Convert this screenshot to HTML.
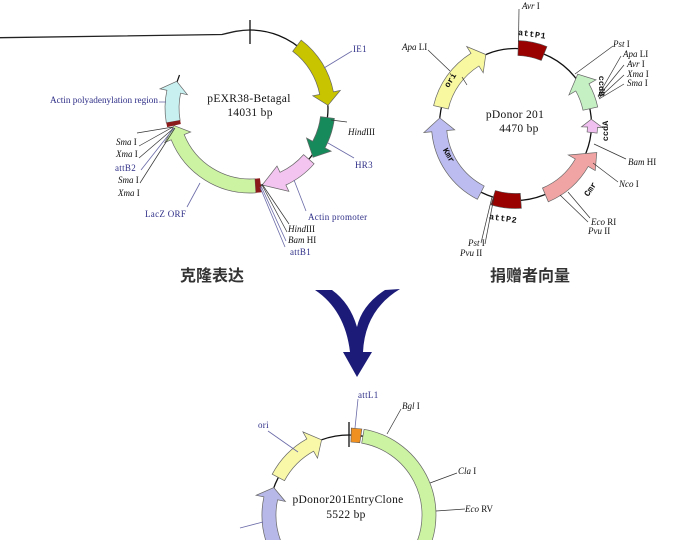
<!DOCTYPE html>
<html><head><meta charset="utf-8"><style>
html,body{margin:0;padding:0;background:#fff;}
svg{display:block;}
.t{font-family:"Liberation Serif",serif;font-size:9px;fill:#111;}
.n{font-family:"Liberation Serif",serif;font-size:9px;fill:#2e2e88;letter-spacing:0.3px;}
.c{font-family:"Liberation Serif",serif;font-size:11.5px;fill:#111;letter-spacing:0.3px;}
.m{font-family:"Liberation Mono",monospace;font-size:8.5px;font-weight:bold;fill:#111;}
.zh{font-family:"Liberation Sans","Noto Sans CJK SC",sans-serif;font-size:16px;font-weight:bold;fill:#333;}
.l{stroke:#333;stroke-width:0.7;fill:none;}
.ln{stroke:#6a6aa8;stroke-width:0.8;fill:none;}
.f{stroke:#666;stroke-width:0.7;}
</style></head><body>
<svg width="700" height="540" viewBox="0 0 700 540" xmlns="http://www.w3.org/2000/svg">
<rect width="700" height="540" fill="#fff"/>

<!-- ===== LEFT PLASMID ===== -->
<path d="M0,37.7 L222,34.5 C232,32 240,30 250,30" stroke="#222" stroke-width="1.3" fill="none"/>
<path d="M250,30 A78,78 0 0 1 250,186" stroke="#111" stroke-width="1.3" fill="none"/>
<line x1="250" y1="20" x2="250" y2="44" stroke="#111" stroke-width="1.3"/>
<line x1="177" y1="82" x2="179.5" y2="75" stroke="#111" stroke-width="1.2"/>

<path class="f" fill="#c8c400" d="M301.2,40.1 A85,85 0 0 1 333.4,91.8 L340.3,90.4 L328.0,105.3 L312.8,95.8 L319.7,94.5 A71,71 0 0 0 292.7,51.3 Z"/>
<path class="f" fill="#178a5c" d="M334.4,118.4 A85,85 0 0 1 325.0,147.9 L331.2,151.2 L313.0,157.3 L306.5,138.0 L312.7,141.3 A71,71 0 0 0 320.5,116.7 Z"/>
<path class="f" fill="#f3c4f0" d="M314.1,163.8 A85,85 0 0 1 285.9,185.0 L288.9,191.4 L262.2,185.0 L277.0,166.0 L280.0,172.3 A71,71 0 0 0 303.6,154.6 Z"/>
<path class="f" fill="#ccf3a2" d="M255.9,192.8 A85,85 0 0 1 171.2,139.8 L164.7,142.5 L174.0,125.6 L190.7,132.0 L184.2,134.6 A71,71 0 0 0 255.0,178.8 Z"/>
<polygon fill="#8b1a1a" points="261.8,192.2 255.9,192.8 255.0,178.8 259.9,178.3"/>
<path class="f" fill="#c9f0f0" d="M166.3,122.8 A85,85 0 0 1 166.9,90.3 L160.0,88.9 L176.7,81.3 L187.4,94.7 L180.6,93.2 A71,71 0 0 0 180.1,120.3 Z"/>
<polygon fill="#8b1a1a" points="167.2,127.1 180.8,124.0 180.1,120.3 166.3,122.8"/>

<line class="ln" x1="324" y1="68" x2="352" y2="51"/>
<line class="l" x1="331" y1="120" x2="347" y2="122"/>
<line class="ln" x1="328" y1="143" x2="354" y2="158"/>
<line class="ln" x1="294" y1="180" x2="306" y2="211"/>
<line class="l" x1="262" y1="184" x2="289" y2="224"/>
<line class="l" x1="262" y1="185" x2="287" y2="232"/>
<line class="ln" x1="261" y1="186" x2="286" y2="241"/>
<line class="ln" x1="260" y1="187" x2="285" y2="247"/>
<line class="ln" x1="200" y1="183" x2="187" y2="207"/>
<line class="ln" x1="159" y1="102" x2="166" y2="102"/>
<line class="l" x1="137" y1="133" x2="173" y2="127"/>
<line class="l" x1="139" y1="146" x2="173" y2="127"/>
<line class="l" x1="139" y1="158" x2="174" y2="128"/>
<line class="ln" x1="141" y1="170" x2="174" y2="128"/>
<line class="l" x1="140" y1="183" x2="175" y2="128"/>

<text class="n" x="353" y="52">IE1</text>
<text class="t" x="348" y="135"><tspan font-style="italic">Hind</tspan>III</text>
<text class="n" x="355" y="168">HR3</text>
<text class="n" x="308" y="220">Actin promoter</text>
<text class="t" x="288" y="232"><tspan font-style="italic">Hind</tspan>III</text>
<text class="t" x="288" y="243"><tspan font-style="italic">Bam</tspan> HI</text>
<text class="n" x="290" y="255">attB1</text>
<text class="n" x="145" y="217">LacZ ORF</text>
<text class="n" x="50" y="103" style="letter-spacing:0" textLength="108" lengthAdjust="spacingAndGlyphs">Actin polyadenylation region</text>
<text class="t" x="116" y="145"><tspan font-style="italic">Sma</tspan> I</text>
<text class="t" x="116" y="157"><tspan font-style="italic">Xma</tspan> I</text>
<text class="n" x="115" y="171">attB2</text>
<text class="t" x="118" y="183"><tspan font-style="italic">Sma</tspan> I</text>
<text class="t" x="118" y="196"><tspan font-style="italic">Xma</tspan> I</text>
<text class="c" x="249" y="102" text-anchor="middle">pEXR38-Betagal</text>
<text class="c" x="250" y="116" text-anchor="middle">14031 bp</text>
<text class="zh" x="180" y="281">克隆表达</text>

<!-- ===== RIGHT PLASMID ===== -->
<circle cx="515.5" cy="124.5" r="76" stroke="#111" stroke-width="1.3" fill="none"/>
<path fill="#990000" stroke="#555" stroke-width="0.6" d="M518.4,40.6 A84,84 0 0 1 547.0,46.6 L541.3,60.5 A69,69 0 0 0 517.9,55.5 Z"/>
<path class="f" fill="#f8f8a0" d="M433.6,105.6 A84,84 0 0 1 471.0,53.3 L466.7,46.5 L485.8,54.5 L483.2,72.8 L478.9,66.0 A69,69 0 0 0 448.3,109.0 Z"/>
<path class="f" fill="#bcbcf0" d="M477.4,199.3 A84,84 0 0 1 431.8,131.8 L423.9,132.5 L439.8,117.9 L454.7,129.8 L446.8,130.5 A69,69 0 0 0 484.2,186.0 Z"/>
<path fill="#990000" stroke="#555" stroke-width="0.6" d="M521.4,208.3 A84,84 0 0 1 490.9,204.8 L495.3,190.5 A69,69 0 0 0 520.3,193.3 Z"/>
<path class="f" fill="#f0a4a4" d="M548.3,201.8 A84,84 0 0 0 588.2,166.5 L595.2,170.5 L596.8,152.5 L568.3,155.0 L575.3,159.0 A69,69 0 0 1 542.5,188.0 Z"/>
<polygon class="f" fill="#f0c0f0" points="597.1,133.1 597.5,127.4 602.4,127.5 591.3,119.2 581.5,126.8 587.5,127.0 587.1,132.0"/>
<path class="f" fill="#c4f0c4" d="M597.7,107.0 A84,84 0 0 0 589.0,83.8 L596.0,79.9 L577.7,74.2 L568.9,94.9 L575.8,91.0 A69,69 0 0 1 583.0,110.2 Z"/>

<line class="l" x1="519" y1="9" x2="518.5" y2="42"/>
<line class="l" x1="428" y1="50" x2="450" y2="71"/>
<line class="l" x1="462" y1="77" x2="467" y2="85"/>
<line class="l" x1="613" y1="46" x2="575" y2="74"/>
<line class="l" x1="621" y1="56" x2="598" y2="96"/>
<line class="l" x1="624" y1="65" x2="598" y2="97"/>
<line class="l" x1="624" y1="75" x2="599" y2="98"/>
<line class="l" x1="624" y1="84" x2="599" y2="99"/>
<line class="l" x1="594" y1="144" x2="626" y2="159"/>
<line class="l" x1="593" y1="163" x2="618" y2="182"/>
<line class="l" x1="560" y1="195" x2="588" y2="222"/>
<line class="l" x1="568" y1="192" x2="590" y2="218"/>
<line class="l" x1="492" y1="197" x2="481" y2="243"/>
<line class="l" x1="494" y1="197" x2="485" y2="244"/>

<text class="t" x="522" y="9"><tspan font-style="italic">Avr</tspan> I</text>
<text class="m" x="518" y="37" letter-spacing="0.6" transform="rotate(8 533 34)">attP1</text>
<text class="t" x="402" y="50"><tspan font-style="italic">Apa</tspan> LI</text>
<text class="m" x="450" y="83" text-anchor="middle" transform="rotate(-58 450 80)">ori</text>
<text class="m" x="449" y="158" text-anchor="middle" transform="rotate(60 449 155)">Kmr</text>
<text class="m" x="489" y="221" letter-spacing="0.6" transform="rotate(8 503 218)">attP2</text>
<text class="m" x="590" y="192" text-anchor="middle" transform="rotate(-55 590 189)">Cmr</text>
<text class="m" x="602" y="89" text-anchor="middle" transform="rotate(90 602 86)">ccdB</text>
<text class="m" x="605" y="134" text-anchor="middle" transform="rotate(-90 605 131)">ccdA</text>
<text class="t" x="613" y="47"><tspan font-style="italic">Pst</tspan> I</text>
<text class="t" x="623" y="57"><tspan font-style="italic">Apa</tspan> LI</text>
<text class="t" x="627" y="67"><tspan font-style="italic">Avr</tspan> I</text>
<text class="t" x="627" y="77"><tspan font-style="italic">Xma</tspan> I</text>
<text class="t" x="627" y="86"><tspan font-style="italic">Sma</tspan> I</text>
<text class="t" x="628" y="165"><tspan font-style="italic">Bam</tspan> HI</text>
<text class="t" x="619" y="187"><tspan font-style="italic">Nco</tspan> I</text>
<text class="t" x="591" y="225"><tspan font-style="italic">Eco</tspan> RI</text>
<text class="t" x="588" y="234"><tspan font-style="italic">Pvu</tspan> II</text>
<text class="t" x="468" y="246"><tspan font-style="italic">Pst</tspan> I</text>
<text class="t" x="460" y="256"><tspan font-style="italic">Pvu</tspan> II</text>
<text class="c" x="515" y="118" text-anchor="middle">pDonor 201</text>
<text class="c" x="519" y="132" text-anchor="middle">4470 bp</text>
<text class="zh" x="490" y="281">捐赠者向量</text>

<!-- ===== BIG ARROW ===== -->
<path fill="#1c1c78" d="M315,290 Q345,310 350,352 L343,352 L357,377 L372,352 L363,352 Q365,310 400,289 L385,290 Q362,305 357,327 Q350,303 332,290 Z"/>

<!-- ===== BOTTOM PLASMID ===== -->
<path d="M272.9,490.3 A80,80 0 0 1 362.9,436.2" stroke="#111" stroke-width="1.3" fill="none"/>
<line x1="349" y1="422" x2="349" y2="447" stroke="#111" stroke-width="1.3"/>
<path class="f" fill="#f8f8a8" d="M272.2,474.2 A87,87 0 0 1 306.8,438.9 L302.9,431.9 L321.6,439.8 L317.5,458.2 L313.6,451.2 A73,73 0 0 0 284.5,480.7 Z"/>
<path class="f" fill="#b8b8e8" d="M267.2,544.8 A87,87 0 0 1 263.9,496.9 L256.1,495.3 L273.8,487.6 L285.4,501.5 L277.6,499.8 A73,73 0 0 0 280.4,540.0 Z"/>
<path fill="#f09020" stroke="#555" stroke-width="0.6" d="M351.3,428.0 L361.9,429.0 L359.8,442.8 L350.9,442.0 Z"/>
<path class="f" fill="#ccf3a2" d="M364.1,429.3 A87,87 0 0 1 427.8,551.8 L415.2,545.8 A73,73 0 0 0 361.7,443.1 Z"/>

<line class="ln" x1="268" y1="431" x2="298" y2="452"/>
<line class="ln" x1="358" y1="399" x2="355" y2="428"/>
<line class="l" x1="387" y1="434" x2="401" y2="409"/>
<line class="l" x1="430" y1="483" x2="457" y2="473"/>
<line class="l" x1="436" y1="511" x2="465" y2="509"/>
<line class="ln" x1="240" y1="528" x2="263" y2="522"/>

<text class="n" x="258" y="428">ori</text>
<text class="n" x="358" y="398">attL1</text>
<text class="t" x="402" y="409"><tspan font-style="italic">Bgl</tspan> I</text>
<text class="t" x="458" y="474"><tspan font-style="italic">Cla</tspan> I</text>
<text class="t" x="465" y="512"><tspan font-style="italic">Eco</tspan> RV</text>
<text class="c" x="348" y="503" text-anchor="middle">pDonor201EntryClone</text>
<text class="c" x="346" y="518" text-anchor="middle">5522 bp</text>
</svg>
</body></html>
